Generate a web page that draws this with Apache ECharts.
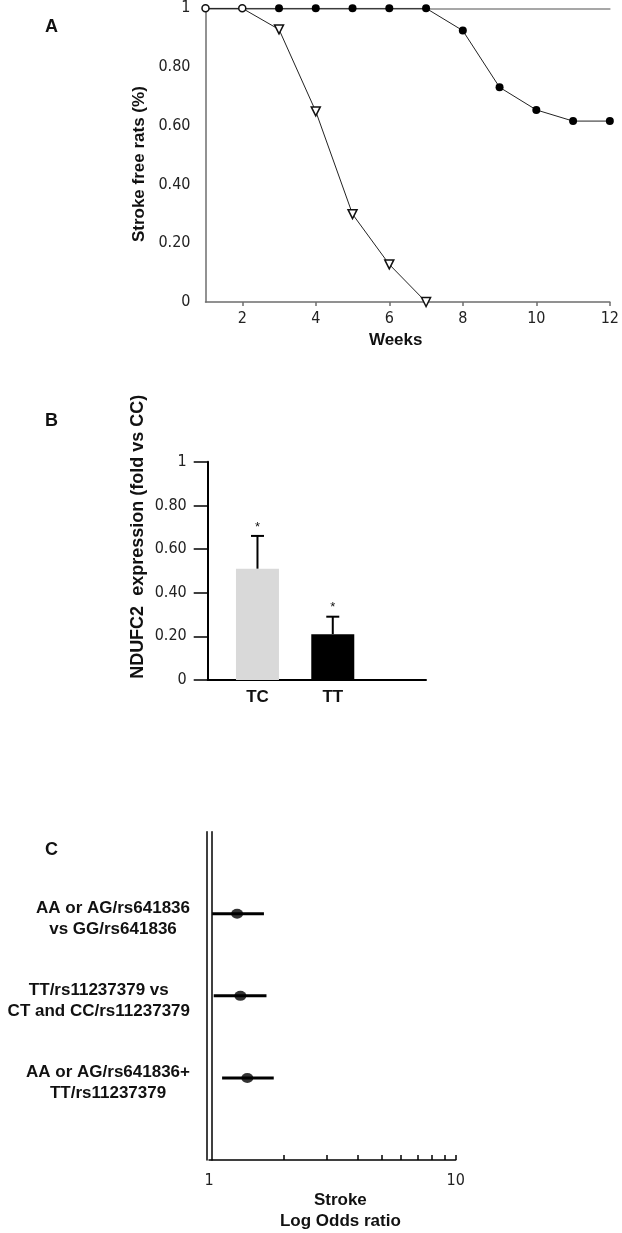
<!DOCTYPE html>
<html><head><meta charset="utf-8">
<script src="https://cdn.jsdelivr.net/npm/echarts@6/dist/echarts.min.js"></script>
<style>html,body{margin:0;padding:0;background:#fff}#c{width:622px;height:1233px}</style>
</head><body><div id="c"></div>
<script>
// ---- Panel A data ----
const weeks = [1,2,3,4,5,6,7,8,9,10,11,12];
const strokeFreeFilled = [1,1,1,1,1,1,1,0.924,0.731,0.654,0.616,0.616];
const strokeFreeOpen = [1,1,0.928,0.649,0.299,0.128,0];
const weekTicks = [2,4,6,8,10,12];
// ---- Panel B data ----
const genotypes = ['TC','TT'];
const expression = [0.51, 0.21];
const expressionErrTop = [0.66, 0.29];
// ---- Panel C data ----
const comparisons = [
  ['AA or AG/rs641836','vs GG/rs641836'],
  ['TT/rs11237379 vs','CT and CC/rs11237379'],
  ['AA or AG/rs641836+','TT/rs11237379']
];
const oddsRatio = [1.30, 1.34, 1.43];
const ciLow = [1.03, 1.045, 1.13];
const ciHigh = [1.67, 1.71, 1.83];
const logMinorTicks = [2,3,4,5,6,7,8,9,10];
const logLabels = [1,10];

const NARROW = "'Liberation Sans Narrow','Arial Narrow','DejaVu Sans Condensed',sans-serif";
const SANS = "'Liberation Sans',Arial,sans-serif";
const fmtA = v => v === 0 ? '0' : (v === 1 ? '1' : v.toFixed(2));

const chart = echarts.init(document.getElementById('c'), null, {renderer:'canvas'});
const barColors = ['#d9d9d9','#000000'];

chart.setOption({
  animation:false,
  backgroundColor:'#fff',
  title:[
    {text:'A', left:40, top:13, textStyle:{fontFamily:SANS, fontWeight:'bold', fontSize:18, color:'#111'}},
    {text:'B', left:40, top:407, textStyle:{fontFamily:SANS, fontWeight:'bold', fontSize:18, color:'#111'}},
    {text:'C', left:40, top:836, textStyle:{fontFamily:SANS, fontWeight:'bold', fontSize:18, color:'#111'}}
  ],
  grid:[
    {left:205.5, top:8.3, width:408.8, height:293.7},
    {left:207.7, top:461.7, width:218.3, height:218.3},
    {left:209, top:831.7, width:246.7, height:328.3}
  ],
  xAxis:[
    {gridIndex:0, type:'value', min:1, max:12, name:'Weeks', nameLocation:'middle', nameGap:30,
     nameTextStyle:{fontFamily:SANS, fontWeight:'bold', fontSize:17, color:'#111', padding:[0,24,0,0]},
     axisLine:{lineStyle:{color:'#6e6e6e', width:1.5}},
     axisTick:{customValues:weekTicks, length:4, lineStyle:{color:'#6e6e6e', width:1.5}},
     axisLabel:{customValues:weekTicks, margin:9, fontFamily:NARROW, fontSize:16, color:'#222'},
     splitLine:{show:false}},
    {gridIndex:0, type:'value', min:1, max:12, position:'top',
     axisLine:{lineStyle:{color:'#8a8a8a', width:1.5}}, axisTick:{show:false}, axisLabel:{show:false}, splitLine:{show:false}},
    {gridIndex:1, type:'value', min:0.339, max:3.238,
     axisLine:{lineStyle:{color:'#000', width:2}}, axisTick:{show:false},
     axisLabel:{customValues:[1,2], formatter:v => genotypes[Math.round(v)-1] || '', margin:9,
       fontFamily:SANS, fontWeight:'bold', fontSize:17, color:'#111'},
     splitLine:{show:false}},
    {gridIndex:2, type:'log', logBase:10, min:1, max:10, position:'bottom',
     name:'Stroke\nLog Odds ratio', nameLocation:'middle', nameGap:28,
     nameTextStyle:{fontFamily:SANS, fontWeight:'bold', fontSize:17, lineHeight:21, color:'#111', padding:[0,0,0,16]},
     axisLine:{onZero:false, lineStyle:{color:'#000', width:1.5}},
     axisTick:{customValues:logMinorTicks, inside:true, length:5, lineStyle:{color:'#000', width:1.5}},
     axisLabel:{customValues:logLabels, margin:13, fontFamily:NARROW, fontSize:16, color:'#222'},
     splitLine:{show:false}, minorTick:{show:false}, minorSplitLine:{show:false}}
  ],
  yAxis:[
    {gridIndex:0, type:'value', min:0, max:1, interval:0.2, name:'Stroke free rats (%)', nameLocation:'middle', nameGap:58,
     nameTextStyle:{fontFamily:SANS, fontWeight:'bold', fontSize:17, color:'#111', padding:[0,18,0,0]},
     axisLine:{show:true, lineStyle:{color:'#6e6e6e', width:1.5}}, axisTick:{show:false},
     axisLabel:{formatter:fmtA, margin:15, fontFamily:NARROW, fontSize:16, color:'#222'},
     splitLine:{show:false}},
    {gridIndex:1, type:'value', min:0, max:1, interval:0.2, name:'NDUFC2  expression (fold vs CC)', nameLocation:'middle', nameGap:61,
     nameTextStyle:{fontFamily:SANS, fontWeight:'bold', fontSize:18, color:'#111', padding:[0,0,0,68]},
     axisLine:{show:true, lineStyle:{color:'#000', width:2}},
     axisTick:{show:true, length:14, lineStyle:{color:'#000', width:1.5}},
     axisLabel:{formatter:fmtA, margin:21, fontFamily:NARROW, fontSize:16, color:'#222'},
     splitLine:{show:false}},
    {gridIndex:2, type:'value', min:0, max:4, inverse:true, position:'left', offset:2,
     axisLine:{show:true, onZero:false, lineStyle:{color:'#000', width:1.5}}, axisTick:{show:false},
     axisLabel:{customValues:[1,2,3], margin:17, padding:[10,0,0,0],
       formatter:v => { const c = comparisons[Math.round(v)-1]; return c ? c.map(s => '{a|' + s + '}').join('\n') : ''; },
       rich:{a:{fontFamily:SANS, fontWeight:'bold', fontSize:17, lineHeight:21, color:'#111', align:'center'}}},
     splitLine:{show:false}},
    {gridIndex:2, type:'value', min:0, max:4, inverse:true, position:'left', offset:-3,
     axisLine:{show:true, onZero:false, lineStyle:{color:'#000', width:1.5}}, axisTick:{show:false}, axisLabel:{show:false}, splitLine:{show:false}}
  ],
  series:[
    {type:'line', xAxisIndex:0, yAxisIndex:0, z:3,
     data:weeks.map((w,i) => [w, strokeFreeFilled[i]]),
     symbol:(v,p) => p.dataIndex < 2 ? 'none' : 'circle', symbolSize:8,
     itemStyle:{color:'#000'}, lineStyle:{color:'#222', width:1}},
    {type:'line', xAxisIndex:0, yAxisIndex:0, z:4,
     data:strokeFreeOpen.map((v,i) => [weeks[i], v]),
     symbol:(v,p) => p.dataIndex < 2 ? 'circle' : 'triangle',
     symbolRotate:(v,p) => p.dataIndex < 2 ? 0 : 180,
     symbolSize:(v,p) => p.dataIndex < 2 ? 7 : 9,
     itemStyle:{color:'#fff', borderColor:'#111', borderWidth:1.5}, lineStyle:{color:'#222', width:1}},
    {type:'bar', xAxisIndex:2, yAxisIndex:1, barWidth:43,
     data:expression.map((v,i) => [i+1, v]),
     itemStyle:{color:p => barColors[p.dataIndex]}},
    {type:'custom', xAxisIndex:2, yAxisIndex:1, z:5,
     data:expression.map((v,i) => [i+1, v, expressionErrTop[i]]),
     renderItem:(params, api) => {
       const p0 = api.coord([api.value(0), api.value(1)]);
       const p1 = api.coord([api.value(0), api.value(2)]);
       return {type:'group', children:[
         {type:'line', shape:{x1:p0[0], y1:p0[1], x2:p1[0], y2:p1[1]}, style:{stroke:'#000', lineWidth:2}},
         {type:'line', shape:{x1:p1[0]-6.5, y1:p1[1], x2:p1[0]+6.5, y2:p1[1]}, style:{stroke:'#000', lineWidth:2}},
         {type:'text', x:p1[0], y:p1[1]-9, style:{text:'*', fill:'#111', font:'13px ' + SANS, textAlign:'center', textVerticalAlign:'middle'}}
       ]};
     }},
    {type:'custom', xAxisIndex:3, yAxisIndex:2, z:4,
     data:oddsRatio.map((v,i) => [ciLow[i], ciHigh[i], i+1]),
     renderItem:(params, api) => {
       const a = api.coord([api.value(0), api.value(2)]);
       const b = api.coord([api.value(1), api.value(2)]);
       return {type:'line', shape:{x1:a[0], y1:a[1], x2:b[0], y2:b[1]}, style:{stroke:'#000', lineWidth:3}};
     }},
    {type:'scatter', xAxisIndex:3, yAxisIndex:2, z:5, symbol:'circle', symbolSize:[12,10],
     data:oddsRatio.map((v,i) => [v, i+1]), itemStyle:{color:'#000'}}
  ]
});
</script></body></html>
